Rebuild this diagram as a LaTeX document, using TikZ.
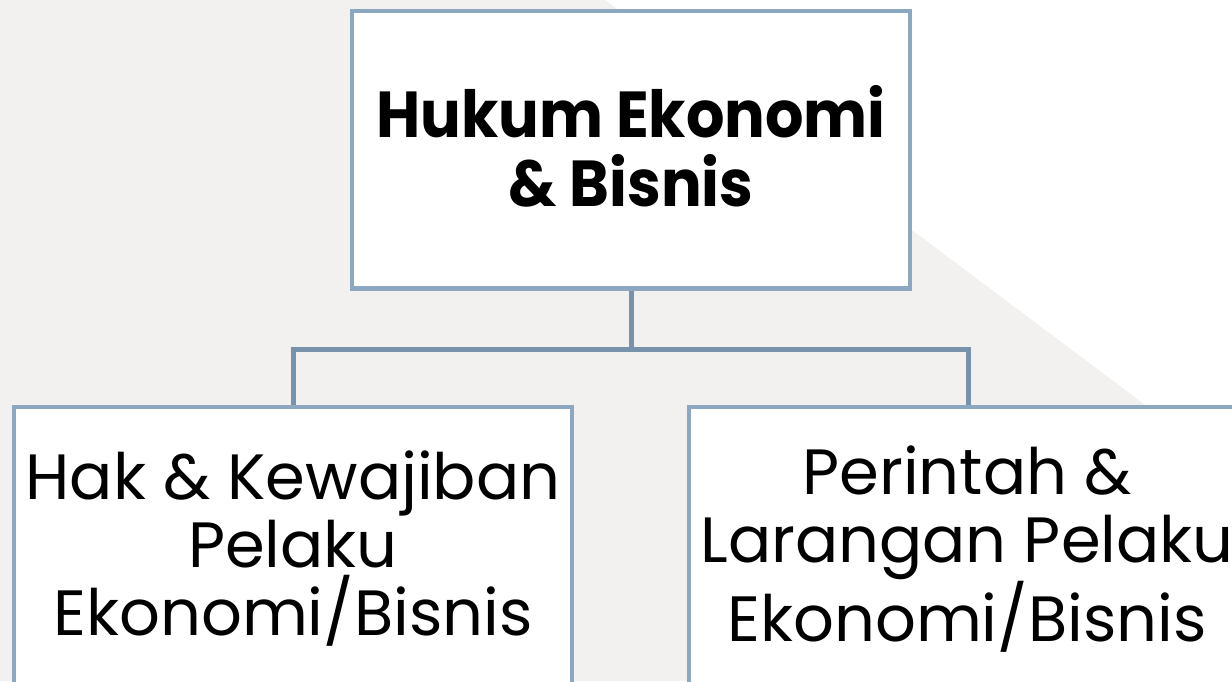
\documentclass[tikz,border=0pt]{standalone}
\usepackage{fontspec}
\newfontfamily\popfont{Poppins}
\newfontfamily\popnarrow[FakeStretch=0.93]{Poppins}
\definecolor{bggray}{HTML}{F2F1F0}
\definecolor{boxline}{HTML}{8BA8C0}
\definecolor{connline}{HTML}{7892AB}
\pgfdeclarelayer{bglayer}
\pgfdeclarelayer{connlayer}
\pgfsetlayers{bglayer,connlayer,main}
\tikzset{
  chartbox/.style={draw=boxline, line width=4.5pt, fill=white, rectangle, inner sep=0pt, minimum width=558pt},
  conn/.style={draw=connline, line width=5pt},
  toptext/.style={font=\popnarrow\bfseries\fontsize{65}{69}\selectfont, align=center, inner sep=0pt, text=black},
  subtext/.style={font=\popfont\fontsize{64}{68}\selectfont, align=center, inner sep=0pt, text=black}
}
\begin{document}
\begin{tikzpicture}[x=1pt,y=-1pt]
\useasboundingbox (0,0) rectangle (1232,681);
\node[chartbox, minimum height=277.5pt] (top) at (631,149.75) {};
\node[chartbox, minimum height=400pt] (left) at (293,607) {};
\node[chartbox, minimum height=400pt] (right) at (968,607) {};
\node[toptext] (toplabel) at (631,146) {Hukum Ekonomi\\\& Bisnis};
\node[subtext] (leftlabel) at (293,549) {Hak \& Kewajiban\\Pelaku\\Ekonomi/Bisnis};
\node[subtext] (rightlabel) at (967,549) {Perintah \&\\Larangan Pelaku\\Ekonomi/Bisnis};
\begin{pgfonlayer}{bglayer}
  \fill[white] (0,0) rectangle (1232,681);
  \fill[bggray] (0,0) -- (605,0) -- (1232,470) -- (1232,681) -- (0,681) -- cycle;
\end{pgfonlayer}
\begin{pgfonlayer}{connlayer}
  \draw[conn] (top.south) -- ++(0,58.75) -| (left.north);
  \draw[conn] (top.south) -- ++(0,58.75) -| (right.north);
\end{pgfonlayer}
\end{tikzpicture}
\end{document}
